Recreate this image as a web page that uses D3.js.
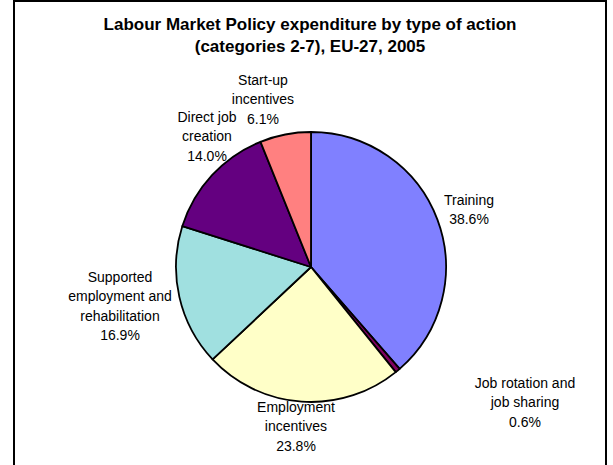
<!DOCTYPE html>
<html><head><meta charset="utf-8">
<script src="https://cdn.jsdelivr.net/npm/d3@7"></script>
<style>body{margin:0;background:#fff}svg{display:block}</style>
</head><body>
<script>
const titleLines = ["Labour Market Policy expenditure by type of action", "(categories 2-7), EU-27, 2005"];
const categories = ["Training", "Job rotation and job sharing", "Employment incentives", "Supported employment and rehabilitation", "Direct job creation", "Start-up incentives"];
const values = [38.6, 0.6, 23.8, 16.9, 14.0, 6.1];
const colors = ["#8080FF", "#800060", "#FFFFC8", "#A0E0E0", "#640080", "#FF8080"];
const labelLines = [["Training"], ["Job rotation and", "job sharing"], ["Employment", "incentives"], ["Supported", "employment and", "rehabilitation"], ["Direct job", "creation"], ["Start-up", "incentives"]];
const labelPos = [[469, 200], [525, 383], [296, 407], [120, 277], [207, 117], [263, 80]];

const W = 613, H = 465;
const svg = d3.select("body").append("svg").attr("width", W).attr("height", H);
svg.append("rect").attr("x", 14).attr("y", 1).attr("width", 592).attr("height", 480)
  .attr("fill", "#fff").attr("stroke", "#000").attr("stroke-width", 2);

const title = svg.append("text").attr("text-anchor", "middle")
  .attr("font-family", "Liberation Sans, Arial, sans-serif").attr("font-weight", "bold").attr("font-size", 17).attr("fill", "#000");
titleLines.forEach((t, i) => title.append("tspan").attr("x", 310).attr("y", 30 + i * 22).text(t));

const cx = 311, cy = 267, r = 135;
const pie = d3.pie().sort(null).value(d => d)(values);
const arc = d3.arc().innerRadius(0).outerRadius(r);
const g = svg.append("g").attr("transform", `translate(${cx},${cy})`);
g.selectAll("path").data(pie).join("path")
  .attr("d", arc).attr("fill", (d, i) => colors[i]).attr("stroke", "#000").attr("stroke-width", 1.8).attr("stroke-linejoin", "round");

const lab = svg.append("g").attr("font-family", "Liberation Sans, Arial, sans-serif").attr("font-size", 14).attr("fill", "#000").attr("text-anchor", "middle");
labelLines.forEach((lines, i) => {
  const all = lines.concat([values[i].toFixed(1) + "%"]);
  const t = lab.append("text");
  all.forEach((s, j) => t.append("tspan").attr("x", labelPos[i][0]).attr("y", labelPos[i][1] + 5 + j * 19.3).text(s));
});
</script>
</body></html>
